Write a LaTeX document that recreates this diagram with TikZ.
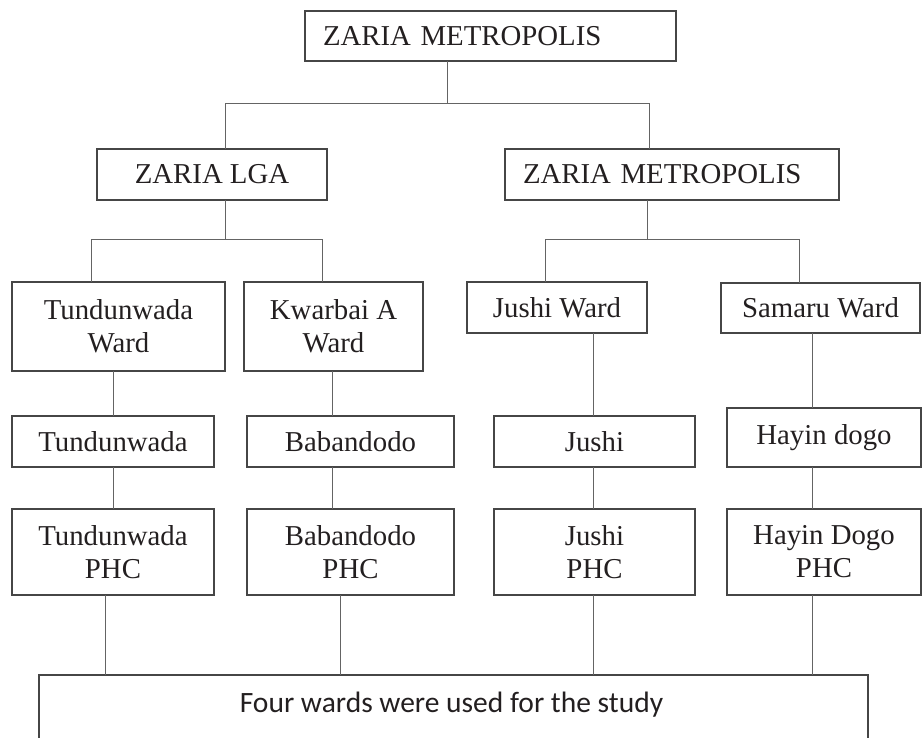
\documentclass[tikz,border=0pt]{standalone}
\usepackage{fontspec}
\setmainfont{Liberation Serif}
\newfontfamily\calib{Carlito}
\usetikzlibrary{calc}
\definecolor{ink}{RGB}{35,31,32}
\definecolor{edge}{RGB}{70,70,70}
\definecolor{wire}{RGB}{100,100,100}
\begin{document}
\begin{tikzpicture}[x=1pt,y=-1pt,
  box/.style={draw=edge, line width=1.1pt, anchor=north west, outer sep=0pt, inner sep=2pt, align=center, text=ink, font=\fontsize{28.8}{33}\selectfont},
  wire/.style={draw=wire, line width=1pt}]
\useasboundingbox (0,0) rectangle (922,738);
\clip (0,0) rectangle (922,738);
% level 1 and 2
\node[box, minimum height=50pt, text width=335pt, inner xsep=18pt, align=left] (top) at (305,11) {ZARIA METROPOLIS};
\node[box, minimum width=230pt, minimum height=51pt] (lga) at (97,149) {ZARIA LGA};
\node[box, minimum height=51pt, text width=298pt, inner xsep=18pt, align=left] (rm) at (505,149) {ZARIA METROPOLIS};
% wards
\node[box, minimum width=213pt, minimum height=89pt] (tw) at (12,282) {Tundunwada\\Ward};
\node[box, minimum width=179pt, minimum height=89pt] (kw) at (244,282) {Kwarbai A\\Ward};
\node[box, minimum width=180pt, minimum height=51pt] (jw) at (467,282) {Jushi Ward};
\node[box, minimum width=199pt, minimum height=50pt] (sw) at (721,283) {Samaru Ward};
% settlements
\node[box, minimum width=202pt, minimum height=51pt] (t) at (12,416) {Tundunwada};
\node[box, minimum width=207pt, minimum height=51pt] (b) at (247,416) {Babandodo};
\node[box, minimum width=201pt, minimum height=51pt] (j) at (494,416) {Jushi};
\node[box, minimum width=194pt, minimum height=59pt] (h) at (727,408) {Hayin dogo};
% PHCs
\node[box, minimum width=202pt, minimum height=86pt] (tp) at (12,509) {Tundunwada\\PHC};
\node[box, minimum width=207pt, minimum height=86pt] (bp) at (247,509) {Babandodo\\PHC};
\node[box, minimum width=201pt, minimum height=86pt] (jp) at (494,509) {Jushi\\PHC};
\node[box, minimum width=194pt, minimum height=86pt] (hp) at (727,509) {Hayin Dogo\\PHC};
% bottom
\node[draw=edge, line width=1.1pt, anchor=north west, outer sep=0pt, minimum width=829pt, minimum height=100pt] (bot) at (39,675) {};
\node[anchor=base, text=ink, font=\calib\fontsize{29.5}{33}\selectfont] (bottxt) at ($(bot.north)+(-2,37)$) {Four wards were used for the study};
% connectors
\coordinate (a0) at (447,104);
\coordinate (aL) at (225,104);
\coordinate (aR) at (649,104);
\draw[wire] (top.south -| a0) -- (a0);
\draw[wire] (lga.north -| aL) |- (aR) -- (rm.north -| aR);
\coordinate (bL) at (91,240);
\coordinate (bR) at (322,240);
\coordinate (b0) at (225,240);
\draw[wire] (lga.south -| b0) -- (b0);
\draw[wire] (tw.north -| bL) |- (bR) -- (kw.north -| bR);
\coordinate (cL) at (545,240);
\coordinate (cR) at (799,240);
\coordinate (c0) at (647,240);
\draw[wire] (rm.south -| c0) -- (c0);
\draw[wire] (jw.north -| cL) |- (cR) -- (sw.north -| cR);
\coordinate (x1) at (113,0);
\coordinate (x2) at (332,0);
\coordinate (x3) at (593,0);
\coordinate (x4) at (812,0);
\coordinate (x5) at (105,0);
\coordinate (x6) at (340,0);
\draw[wire] (tw.south -| x1) -- (t.north -| x1);
\draw[wire] (kw.south -| x2) -- (b.north -| x2);
\draw[wire] (jw.south -| x3) -- (j.north -| x3);
\draw[wire] (sw.south -| x4) -- (h.north -| x4);
\draw[wire] (t.south -| x1) -- (tp.north -| x1);
\draw[wire] (b.south -| x2) -- (bp.north -| x2);
\draw[wire] (j.south -| x3) -- (jp.north -| x3);
\draw[wire] (h.south -| x4) -- (hp.north -| x4);
\draw[wire] (tp.south -| x5) -- (bot.north -| x5);
\draw[wire] (bp.south -| x6) -- (bot.north -| x6);
\draw[wire] (jp.south -| x3) -- (bot.north -| x3);
\draw[wire] (hp.south -| x4) -- (bot.north -| x4);
\end{tikzpicture}
\end{document}
